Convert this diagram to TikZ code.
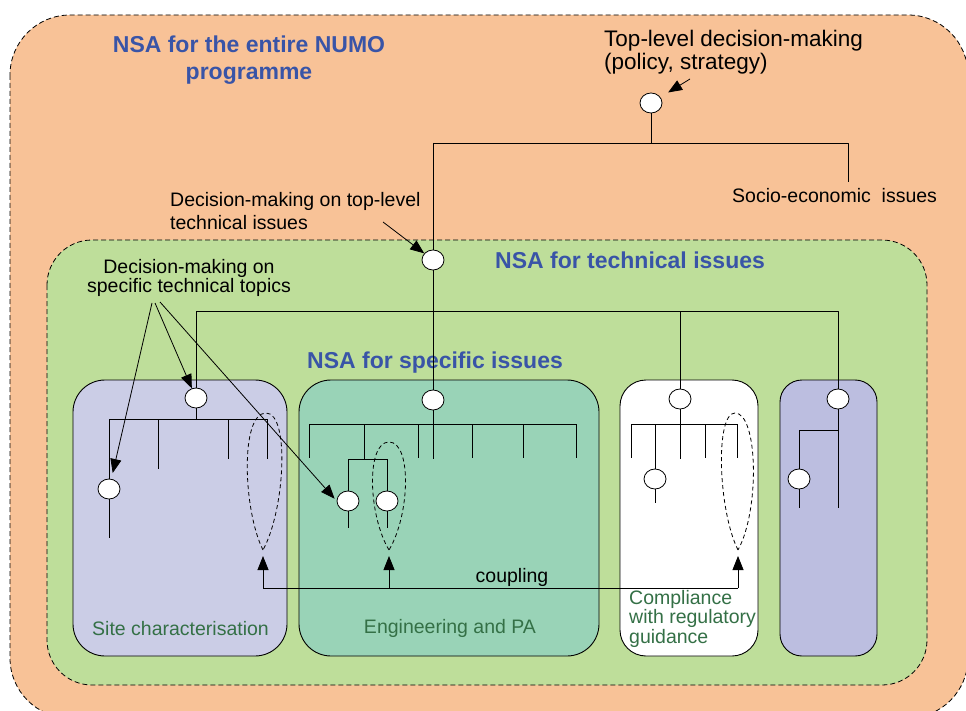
\documentclass[tikz,border=0pt]{standalone}
\usepackage{fontspec}
\setmainfont{Liberation Sans}
\usepackage{tikz}
\usetikzlibrary{arrows.meta, shapes, positioning}
\usepackage{xcolor}
\definecolor{peach}{RGB}{248,194,151}
\definecolor{techgreen}{RGB}{190,222,154}
\definecolor{sitelilac}{RGB}{203,205,230}
\definecolor{engteal}{RGB}{153,211,183}
\definecolor{extrablue}{RGB}{188,190,224}
\definecolor{titleblue}{RGB}{57,84,167}
\definecolor{labelgreen}{RGB}{52,112,70}
\tikzset{decnode/.style={ellipse, fill=white, draw=black, line width=0.8pt, minimum width=22pt, minimum height=20pt, inner sep=0pt}}

\begin{document}
\begin{tikzpicture}[
        x=1pt, y=-1pt,
        line join=bevel,
        treeline/.style={draw=black, line width=0.9pt},
        pointer/.style={-{Triangle[length=14pt, width=11pt]}, line width=0.8pt},
        couploop/.style={dashed, dash pattern=on 4pt off 3pt, line width=0.8pt},
        areabox/.style={draw=black, dashed, dash pattern=on 5pt off 3pt, line width=0.8pt},
        specbox/.style={draw=black, line width=0.9pt},
        txt/.style={font=\fontsize{19.5}{23}\selectfont, inner sep=0pt},
        title/.style={font=\fontsize{23}{27}\selectfont\bfseries, text=titleblue, inner sep=0pt},
        boxlabel/.style={font=\fontsize{19.5}{18}\selectfont, text=labelgreen, inner sep=0pt}
    ]
        \useasboundingbox (0,0) rectangle (966,711);
        \clip (0,0) rectangle (966,711);
        % Areas
        \filldraw[areabox, fill=peach, rounded corners=60pt] (10,15) rectangle (968,718);
        \filldraw[areabox, fill=techgreen, rounded corners=45pt] (47,240) rectangle (927,685);
        \filldraw[specbox, fill=sitelilac, rounded corners=32pt] (73,380) rectangle (287,656);
        \filldraw[specbox, fill=engteal, rounded corners=32pt] (299,380) rectangle (599,656);
        \filldraw[specbox, fill=white, rounded corners=26pt] (620,380) rectangle (758,656);
        \filldraw[specbox, fill=extrablue, rounded corners=22pt] (780,380) rectangle (877,656);
        % Titles (base of a multi-line node = last line)
        \node[title, align=center, anchor=base] (numotitle) at (249,80) {NSA for the entire NUMO\\programme};
        \node[title, anchor=base west] (techtitle) at (495,269) {NSA for technical issues};
        \node[title, anchor=base west] (spectitle) at (307,368) {NSA for specific issues};
        % Top-level tree
        \node[decnode] (topdm) at (651,103) {};
        \coordinate (topj) at (651,143);
        \coordinate (topl) at (433,143);
        \coordinate (topr) at (848,143);
        \coordinate (socioend) at (848,182);
        \draw[treeline] (topdm) -- (topj);
        \draw[treeline] (topl) -- (topr) -- (socioend);
        \node[decnode] (techdm) at (433,260) {};
        \draw[treeline] (topl) -- (techdm);
        % Technical level
        \coordinate (techl) at (196,311);
        \coordinate (techr) at (838,311);
        \coordinate (compj) at (680,311);
        \node[decnode] (sitedm) at (196,398) {};
        \node[decnode] (engdm) at (433,400) {};
        \node[decnode] (compdm) at (680,399) {};
        \node[decnode] (extradm) at (838,399) {};
        \draw[treeline] (techdm) -- (engdm);
        \draw[treeline] (sitedm) -- (techl) -- (techr) -- (extradm);
        \draw[treeline] (compj) -- (compdm);
        % Site characterisation
        \coordinate (sitej) at (196,419);
        \coordinate (sitebl) at (109,419);
        \coordinate (sitebr) at (267,419);
        \coordinate (sitesubend) at (109,538);
        \node[decnode] (sitesub) at (109,489) {};
        \draw[treeline] (sitedm) -- (sitej);
        \draw[treeline] (sitebl) -- (sitebr);
        \draw[treeline] (sitebl) -- (sitesub) -- (sitesubend);
        \foreach \x/\y in {158/469, 228/459, 267/459} {
            \draw[treeline] (\x,419) -- (\x,\y);
        }
        % Engineering and PA
        \coordinate (engbl) at (309,424);
        \coordinate (engbr) at (576,424);
        \coordinate (engend) at (433,459);
        \coordinate (engk) at (364,424);
        \coordinate (engkj) at (364,459);
        \coordinate (engkl) at (348,459);
        \coordinate (engkr) at (387,459);
        \coordinate (engsub1end) at (348,528);
        \coordinate (engsub2end) at (387,528);
        \node[decnode] (engsub1) at (348,501) {};
        \node[decnode] (engsub2) at (387,501) {};
        \draw[treeline] (engbl) -- (engbr);
        \draw[treeline] (engdm) -- (engend);
        \draw[treeline] (engk) -- (engkj);
        \draw[treeline] (engkl) -- (engkr);
        \draw[treeline] (engkl) -- (engsub1) -- (engsub1end);
        \draw[treeline] (engkr) -- (engsub2) -- (engsub2end);
        \foreach \x in {309, 418, 472, 523, 576} {
            \draw[treeline] (\x,424) -- (\x,458);
        }
        % Compliance
        \coordinate (compbl) at (631,424);
        \coordinate (compbr) at (737,424);
        \coordinate (compend) at (680,459);
        \coordinate (compk) at (655,424);
        \coordinate (compsubend) at (655,503);
        \node[decnode] (compsub) at (655,479) {};
        \draw[treeline] (compbl) -- (compbr);
        \draw[treeline] (compdm) -- (compend);
        \draw[treeline] (compk) -- (compsub) -- (compsubend);
        \foreach \x in {631, 705, 737} {
            \draw[treeline] (\x,424) -- (\x,458);
        }
        % Last box
        \coordinate (extraend) at (838,508);
        \coordinate (extraj) at (838,430);
        \coordinate (extrak) at (799,430);
        \coordinate (extrasubend) at (799,508);
        \node[decnode] (extrasub) at (799,479) {};
        \draw[treeline] (extradm) -- (extraend);
        \draw[treeline] (extraj) -- (extrak) -- (extrasub) -- (extrasubend);
        % Coupling loops
        \coordinate (sitecb) at (263,550);
        \coordinate (engcb) at (389,550);
        \coordinate (compcb) at (738,550);
        \draw[couploop] (sitecb) .. controls (243,510) and (240,413) .. (266,413) .. controls (290,413) and (285,510) .. (sitecb);
        \draw[couploop] (engcb) .. controls (368,515) and (366,442) .. (389,442) .. controls (412,442) and (410,515) .. (engcb);
        \draw[couploop] (compcb) .. controls (718,510) and (715,413) .. (735,413) .. controls (758,413) and (760,510) .. (compcb);
        \coordinate (cplsite) at (263,588);
        \coordinate (cpleng) at (389,588);
        \coordinate (cplcomp) at (738,588);
        \draw[treeline] (cplsite) -- (cplcomp);
        \draw[pointer, shorten >=6pt] (cplsite) -- (sitecb);
        \draw[pointer, shorten >=6pt] (cpleng) -- (engcb);
        \draw[pointer, shorten >=6pt] (cplcomp) -- (compcb);
        \node[txt, anchor=base] (coupling) at (512,582) {coupling};
        % Labels
        \node[txt, font=\fontsize{22.5}{23}\selectfont, align=left, anchor=base west] (toplabel) at (604,70) {Top-level decision-making\\(policy, strategy)};
        \node[txt, align=left, anchor=base west] (techlabel) at (170,230) {Decision-making on top-level\\technical issues};
        \node[txt, anchor=base west] (socio) at (732,203) {Socio-economic\ \ issues};
        \node[txt, font=\fontsize{19.5}{19}\selectfont, align=center, anchor=base] (speclabel) at (189,292) {Decision-making on\\specific technical topics};
        \node[boxlabel, anchor=base west] (sitelabel) at (92,635) {Site characterisation};
        \node[boxlabel, anchor=base] (englabel) at (450,633) {Engineering and PA};
        \node[boxlabel, align=left, anchor=base west] (complabel) at (629,643) {Compliance\\with regulatory\\guidance};
        % Pointers
        \coordinate (toptail) at (690,79);
        \coordinate (techtail) at (383,222);
        \coordinate (spectail1) at (152,303);
        \coordinate (spectail2) at (155,303);
        \coordinate (spectail3) at (160,302);
        \draw[pointer, shorten >=9pt] (toptail) -- (topdm);
        \draw[pointer] (techtail) -- (techdm);
        \draw[pointer] (spectail2) -- (sitedm);
        \draw[pointer, shorten >=6pt] (spectail1) -- (sitesub);
        \draw[pointer, shorten >=3pt] (spectail3) -- (engsub1.west);
    \end{tikzpicture}
\end{document}
